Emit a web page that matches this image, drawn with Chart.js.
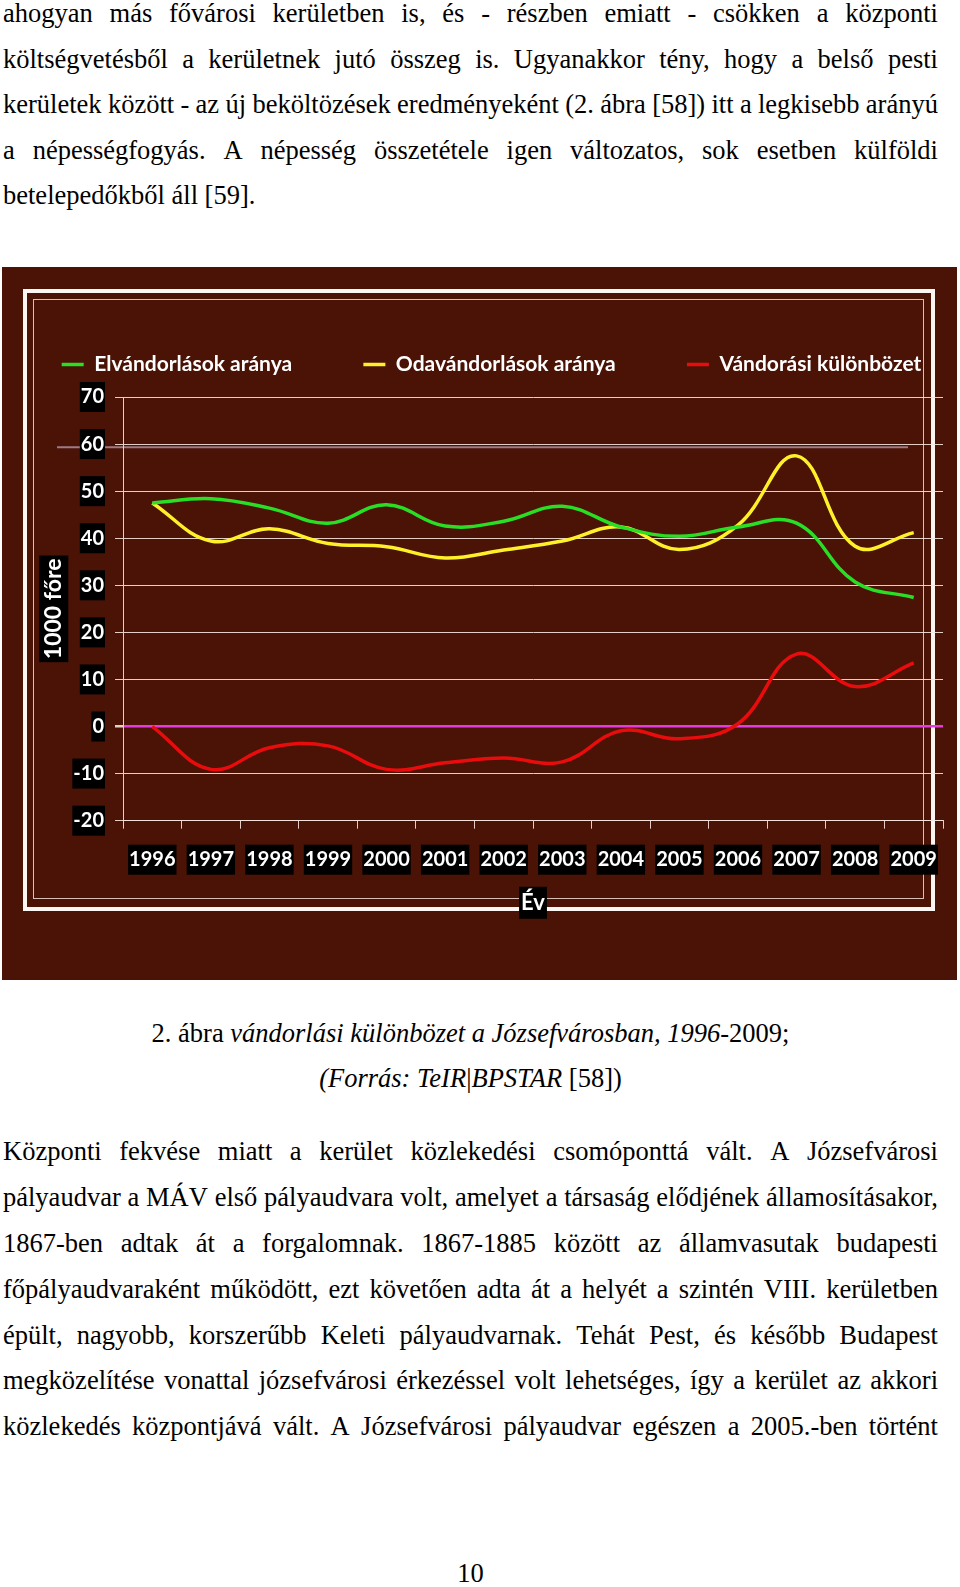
<!DOCTYPE html>
<html lang="hu">
<head>
<meta charset="utf-8">
<title>Vándorlási különbözet a Józsefvárosban</title>
<script src="https://cdn.jsdelivr.net/npm/chart.js@4.4.1/dist/chart.umd.min.js"></script>
<style>
  html, body { margin: 0; padding: 0; background: #fff; }
  body { width: 960px; height: 1587px; position: relative; overflow: hidden;
         font-family: "Liberation Serif", "Times New Roman", serif; color: #000; }
  .para { position: absolute; left: 3px; width: 935px; font-size: 26.5px; }
  .ln { white-space: nowrap; }
  .j { display: flex; justify-content: space-between; }
  .cap { position: absolute; left: 3px; width: 935px; text-align: center; font-size: 26.5px; line-height: 45px; }
  #chartbox { position: absolute; left: 2px; top: 267px; width: 955px; height: 713px; background: #4a1306; }
  #frame1 { position: absolute; left: 21px; top: 22px; width: 904px; height: 614px; border: 4px solid #fbf6f2; }
  #frame2 { position: absolute; left: 31px; top: 32px; width: 889px; height: 598px; border: 1px solid rgba(240,222,215,0.85); }
  #chart { position: absolute; left: 0; top: 0; }
</style>
</head>
<body>

<div class="para" style="top:-9px; line-height:45.5px">
  <div class="ln j">ahogyan más fővárosi kerületben is, és - részben emiatt - csökken a központi</div>
  <div class="ln j">költségvetésből a kerületnek jutó összeg is. Ugyanakkor tény, hogy a belső pesti</div>
  <div class="ln j">kerületek között - az új beköltözések eredményeként (2. ábra [58]) itt a legkisebb arányú</div>
  <div class="ln j">a népességfogyás. A népesség összetétele igen változatos, sok esetben külföldi</div>
  <div class="ln">betelepedőkből áll [59].</div>
</div>

<div id="chartbox">
  <div id="frame1"></div>
  <div id="frame2"></div>
  <canvas id="chart" width="955" height="713"></canvas>
</div>

<div class="cap" style="top:1011px">
  <div>2. ábra <i>vándorlási különbözet a Józsefvárosban, 1996</i>-2009;</div>
  <div><i>(Forrás: TeIR</i>|<i>BPSTAR</i> [58])</div>
</div>

<div class="para" style="top:1129px; line-height:45.87px">
  <div class="ln j">Központi fekvése miatt a kerület közlekedési csomóponttá vált. A Józsefvárosi</div>
  <div class="ln j">pályaudvar a MÁV első pályaudvara volt, amelyet a társaság elődjének államosításakor,</div>
  <div class="ln j">1867-ben adtak át a forgalomnak. 1867-1885 között az államvasutak budapesti</div>
  <div class="ln j">főpályaudvaraként működött, ezt követően adta át a helyét a szintén VIII. kerületben</div>
  <div class="ln j">épült, nagyobb, korszerűbb Keleti pályaudvarnak. Tehát Pest, és később Budapest</div>
  <div class="ln j">megközelítése vonattal józsefvárosi érkezéssel volt lehetséges, így a kerület az akkori</div>
  <div class="ln j">közlekedés központjává vált. A Józsefvárosi pályaudvar egészen a 2005.-ben történt</div>
</div>

<div class="cap" style="top:1551px">10</div>

<script>
// justified lines: spread the words over the full line width
document.querySelectorAll('.j').forEach(function (el) {
  var words = el.textContent.trim().split(/\s+/);
  el.textContent = '';
  words.forEach(function (w) {
    var s = document.createElement('span');
    s.textContent = w;
    el.appendChild(s);
  });
  if (el.scrollWidth > 935) {
    var natural = el.scrollWidth;
    el.style.width = natural + 'px';
    el.style.transformOrigin = '0 0';
    el.style.transform = 'scaleX(' + (935 / natural) + ')';
  }
});

// data
const years = ['1996', '1997', '1998', '1999', '2000', '2001', '2002',
               '2003', '2004', '2005', '2006', '2007', '2008', '2009'];
const elvandorlasok = [47.5, 48.4, 46.4, 43.2, 47.1, 42.6, 43.6, 46.8, 42.4, 40.4, 42.4, 43.2, 30.7, 27.4];
const odavandorlasok = [47.5, 39.4, 42.0, 38.9, 38.2, 35.8, 37.5, 39.4, 42.4, 37.6, 42.8, 57.5, 38.3, 41.2];
const kulonbozet = [0, -9.1, -4.5, -4.1, -9.1, -7.7, -6.7, -7.5, -0.9, -2.6, 0.6, 15.4, 8.5, 13.5];
const yMin = -20, yMax = 70, yStep = 10;

const gridColor = 'rgba(245,228,220,0.9)';
const zeroColor = '#e23ce0';
const legendFont = 'bold 21px Lato';

Chart.defaults.font.family = 'Lato';
Chart.defaults.color = '#ffffff';

// black boxes behind the axis titles, plus the stray grey line of the original
const titleBoxes = {
  id: 'titleBoxes',
  beforeDraw(chart) {
    const ctx = chart.ctx;
    const xs = chart.scales.x, ys = chart.scales.y;
    ctx.save();

    const yStray = ys.getPixelForValue(59.3);
    ctx.strokeStyle = 'rgba(165,135,145,0.9)';
    ctx.lineWidth = 2;
    ctx.beginPath();
    ctx.moveTo(chart.chartArea.left - 66, yStray);
    ctx.lineTo(chart.chartArea.right - 35, yStray);
    ctx.stroke();

    ctx.fillStyle = '#000';
    // x title
    let t = xs.options.title;
    ctx.font = 'bold ' + t.font.size + 'px Lato';
    let w = ctx.measureText(t.text).width + 4;
    let h = t.font.size + 10;
    let cx = (xs.left + xs.right) / 2;
    let cy = xs.bottom - t.font.size * t.font.lineHeight / 2 - t.padding.bottom;
    ctx.fillRect(cx - w / 2, cy - h / 2, w, h);
    // y title (rotated)
    t = ys.options.title;
    ctx.font = 'bold ' + t.font.size + 'px Lato';
    w = ctx.measureText(t.text).width + 6;
    h = t.font.size + 6;
    cx = ys.left + t.font.size * t.font.lineHeight / 2 + t.padding.top;
    cy = (ys.top + ys.bottom) / 2;
    ctx.fillRect(cx - h / 2, cy - w / 2, h, w);
    ctx.restore();
  }
};

// trailing blanks that open up the wide gaps between the legend items
function legendGap(px) {
  const m = document.createElement('canvas').getContext('2d');
  m.font = legendFont;
  return ' '.repeat(Math.round(px / m.measureText(' ').width));
}

let chart;
function CreateLineChart(target_id) {
  const ctx = document.getElementById(target_id);
  const gap = legendGap(60);
  const data = {
    labels: years,
    datasets: [
      { label: 'Elvándorlások aránya', data: elvandorlasok, borderColor: '#2ade26', backgroundColor: '#2ade26', borderWidth: 3.5 },
      { label: 'Odavándorlások aránya', data: odavandorlasok, borderColor: '#fff02a', backgroundColor: '#fff02a', borderWidth: 3.5 },
      { label: 'Vándorási különbözet', data: kulonbozet, borderColor: '#e80c0c', backgroundColor: '#e80c0c', borderWidth: 3.5 }
    ]
  };
  const configuration = {
    type: 'line',
    data: data,
    options: {
      responsive: false,
      animation: false,
      devicePixelRatio: 1,
      elements: {
        line: { tension: 0.4 },
        point: { radius: 0 }
      },
      layout: { padding: { top: 77, left: 38, right: 14, bottom: 60 } },
      plugins: {
        legend: {
          position: 'top',
          labels: {
            color: '#fff',
            font: { size: 21, weight: 'bold' },
            usePointStyle: true,
            pointStyle: 'line',
            pointStyleWidth: 22,
            padding: 10,
            generateLabels: function (c) {
              const items = Chart.defaults.plugins.legend.labels.generateLabels(c);
              items.forEach(function (it, i) {
                if (i < items.length - 1) it.text += gap;
              });
              return items;
            }
          }
        },
        subtitle: {
          display: true, text: '', weight: 500, padding: 0,
          font: { size: 12, lineHeight: 1 }
        },
        tooltip: { enabled: false }
      },
      scales: {
        x: {
          offset: true,
          afterFit: function (scale) { scale.height = 99.3; },
          grid: { drawOnChartArea: false, offset: true, tickLength: 8, color: gridColor },
          border: { color: gridColor },
          ticks: {
            color: '#fff', font: { size: 20, weight: 'bold' }, padding: 19,
            maxRotation: 0, autoSkip: false,
            showLabelBackdrop: true, backdropColor: '#000', backdropPadding: { x: 1, y: 3 }
          },
          title: {
            display: true, text: 'Év', color: '#fff',
            font: { size: 22, weight: 'bold', lineHeight: 1.2 }, padding: { top: 0, bottom: 4 }
          }
        },
        y: {
          min: yMin, max: yMax,
          afterFit: function (scale) { scale.width = 83; },
          grid: {
            tickLength: 8,
            color: (c) => (c.tick && c.tick.value === 0 ? zeroColor : gridColor),
            lineWidth: (c) => (c.tick && c.tick.value === 0 ? 2.5 : 1),
            tickColor: gridColor
          },
          border: { color: gridColor },
          ticks: {
            stepSize: yStep, color: '#fff', font: { size: 20, weight: 'bold' }, padding: 11,
            showLabelBackdrop: true, backdropColor: '#000', backdropPadding: { x: 1, y: 3 }
          },
          title: {
            display: true, text: '1000 főre', color: '#fff',
            font: { size: 23, weight: 'bold', lineHeight: 1.2 }, padding: { top: 0, bottom: 0 }
          }
        }
      }
    },
    plugins: [titleBoxes]
  };

  if (chart) {
    chart.destroy();
  }
  chart = new Chart(ctx, configuration);
}

CreateLineChart('chart');
</script>
</body>
</html>
